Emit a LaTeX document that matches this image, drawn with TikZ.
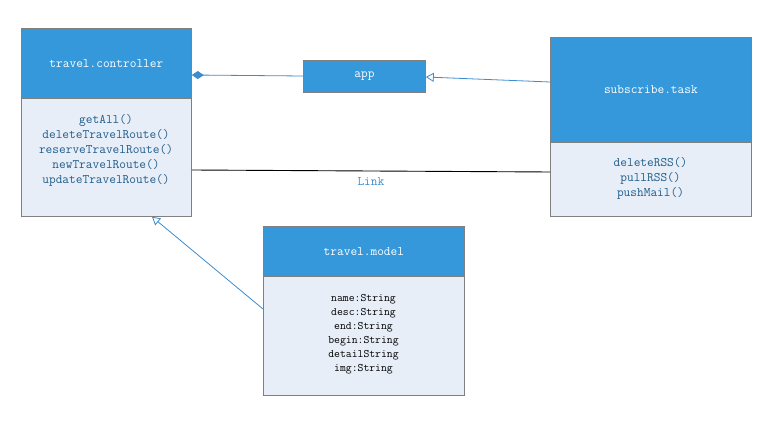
\documentclass[tikz,border=0pt]{standalone}
\usepackage{fontspec}
\usetikzlibrary{arrows.meta}
\definecolor{hdrblue}{RGB}{52,152,219}
\definecolor{bodyfill}{RGB}{232,238,248}
\definecolor{edgegray}{RGB}{128,128,128}
\definecolor{linkblue}{RGB}{62,140,205}
\definecolor{txtblue}{RGB}{31,92,138}
\tikzset{
  hdr/.style={draw=edgegray, fill=hdrblue, text=white, anchor=north west,
    font=\ttfamily\fontsize{13}{14}\selectfont, inner sep=0pt, line width=0.8pt},
  bdy/.style={draw=edgegray, fill=bodyfill, anchor=north west, inner sep=0pt, line width=0.8pt},
  members/.style={text=txtblue, align=center, inner sep=0pt,
    font=\ttfamily\fontsize{13}{15}\selectfont},
  fields/.style={text=black, align=center, inner sep=0pt,
    font=\ttfamily\fontsize{11.4}{14}\selectfont},
  assoc/.style={draw=linkblue, line width=0.8pt},
  compose/.style={assoc, {Diamond[fill=linkblue, length=12pt, width=8pt]}-},
  inherit/.style={assoc, -{Triangle[open, fill=white, length=8pt, width=9pt]}},
}
\begin{document}
\begin{tikzpicture}[x=1pt, y=-1pt]
\useasboundingbox (0,0) rectangle (769,427);
\fill[white] (0,0) rectangle (769,427);

% travel.controller class
\node[bdy, minimum width=170pt, minimum height=118pt] (ctrlB) at (21,98) {};
\node[hdr, minimum width=170pt, minimum height=70pt] (ctrlH) at (21,28) {travel.controller};
\node[members] (ctrlM) at (106,150) {getAll()\\deleteTravelRoute()\\reserveTravelRoute()\\newTravelRoute()\\updateTravelRoute()};

% app class
\node[hdr, minimum width=122pt, minimum height=32pt] (app) at (303,60) {app};

% subscribe.task class
\node[bdy, minimum width=201pt, minimum height=74pt] (subB) at (550,142) {};
\node[hdr, minimum width=201pt, minimum height=105pt] (subH) at (550,37) {subscribe.task};
\node[members] (subM) at (650.5,178) {deleteRSS()\\pullRSS()\\pushMail()};

% travel.model class
\node[bdy, minimum width=201pt, minimum height=119pt] (modB) at (263,276) {};
\node[hdr, minimum width=201pt, minimum height=50pt] (modH) at (263,226) {travel.model};
\node[fields] (modF) at (363.5,334) {name:String\\desc:String\\end:String\\begin:String\\detailString\\img:String};

% connectors
\draw[compose] (ctrlH.east |- 0,75) -- (app.west |- 0,76);
\draw[inherit] (subH.west |- 0,82) -- (app.east |- 0,77);
\draw[black, line width=0.9pt] (ctrlB.east |- 0,170) -- node[below=3pt, text=linkblue, font=\ttfamily\fontsize{13}{14}\selectfont] (lnk) {Link} (subB.west |- 0,172);
\coordinate (modL) at (modB.west |- 0,309);
\coordinate (ctrlBot) at (ctrlB.south -| 152,0);
\draw[inherit] (modL) -- (ctrlBot);
\end{tikzpicture}
\end{document}
